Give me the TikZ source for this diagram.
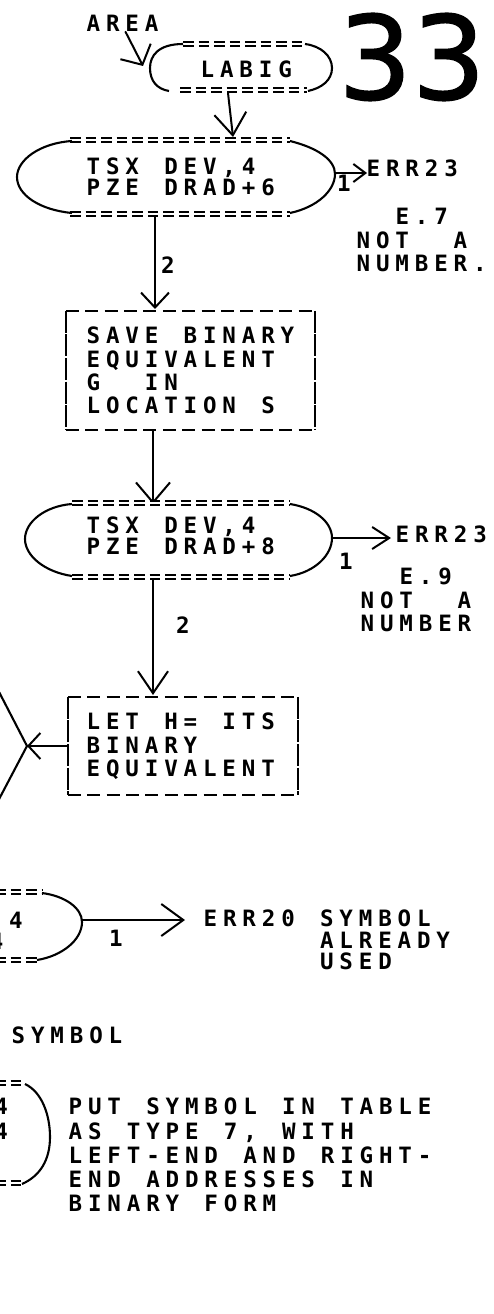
\documentclass[tikz,border=0pt]{standalone}
\usepackage{fontspec}
\usetikzlibrary{arrows.meta}
\newfontfamily\prt{DejaVu Sans Mono}[UprightFont=* Bold]
\newfontfamily\hand{DejaVu Sans}[FakeBold=1.2]
\newlength\cw \setlength\cw{19.4pt}
\ExplSyntaxOn
\cs_new:Npn \gridchar:n #1 { \str_if_eq:nnTF {#1} {_} { \makebox[\cw]{} } { \makebox[\cw][l]{#1} } }
\NewDocumentCommand \grid {m} { \tl_map_function:nN {#1} \gridchar:n }
\ExplSyntaxOff
\tikzset{
  conn/.style={line width=2pt, line cap=round},
  arcline/.style={line width=2.1pt},
  eqline/.style={double=white, double distance=1.5pt, line width=2pt, dash pattern=on 10.5pt off 5pt},
  boxdash/.style={line width=2.5pt, dash pattern=on 13pt off 6.4pt},
  boxside/.style={line width=2.5pt, dash pattern=on 22pt off 1.6pt},
  barb/.style 2 args={-{Straight Barb[length=#1pt,width=#2pt]}},
  prtext/.style={inner sep=0pt, anchor=north west, align=left, font=\prt\fontsize{22.5}{#1}\selectfont},
  prtext/.default=23.3,
  boxnode/.style={inner sep=0pt, draw=none}
}
\newcommand\prtbox[1]{%
  \draw[boxdash] (#1.north west) -- (#1.north east);
  \draw[boxdash] (#1.south west) -- (#1.south east);
  \draw[boxside] (#1.north west) -- (#1.south west);
  \draw[boxside] (#1.north east) -- (#1.south east);}
\begin{document}
\begin{tikzpicture}[x=1pt,y=-1pt]
\useasboundingbox (0,0) rectangle (494,1314);
\fill[white] (0,0) rectangle (494,1314);
\clip (0,0) rectangle (494,1314);

% page number
\node[inner sep=0pt, font=\hand\fontsize{116}{120}\selectfont] (pagenum) at (412,57) {33};

% entry AREA -> LABIG
\node[prtext] (area) at (86.5,15) {\grid{AREA}};
\coordinate (labigin) at (143,66);
\draw[conn, barb={15}{34}] (area.south) -- (labigin);

% LABIG terminal
\draw[eqline] (183,44) -- (305,44);
\draw[eqline] (180,90) -- (307,90);
\draw[arcline] (183,44) .. controls (158,44) and (150,56) .. (150,68) .. controls (150,81) and (157,89) .. (169,91);
\draw[arcline] (305,44) .. controls (321,46) and (332,56) .. (332,68) .. controls (332,80) and (322,88) .. (308,91);
\node[prtext] (labig) at (200.5,61) {\grid{LABIG}};
\coordinate (labigS) at (228,93);
\coordinate (tsxAN) at (233,137);
\draw[conn, barb={22}{32}] (labigS) -- (tsxAN);

% TSX 1
\draw[eqline] (70,140) -- (290,140);
\draw[eqline] (70,214) -- (290,214);
\draw[arcline] (72,141) .. controls (40,143) and (17,160) .. (17,177) .. controls (17,195) and (40,210) .. (72,213);
\draw[arcline] (290,141) .. controls (318,148) and (335,160) .. (335,174) .. controls (335,190) and (318,207) .. (290,213);
\node[prtext=20.5] (tsxA) at (86.5,158) {\grid{TSX_DEV,4}\\\grid{PZE_DRAD+6}};
\coordinate (tsxAE) at (335,173);
\coordinate (errAin) at (367,173);
\node[prtext] (errA) at (366.5,160) {\grid{ERR23}};
\draw[conn, barb={12}{18}] (tsxAE) -- (errAin);
\node[prtext] (oneA) at (337,175) {\grid{1}};
\node[prtext=23.5] (e7) at (356.5,208) {\grid{__E.7}\\\grid{NOT__A}\\\grid{NUMBER.}};
\node[prtext] (twoA) at (161,257) {\grid{2}};
\coordinate (tsxAS) at (155,216);
\coordinate (saveN) at (155,309);
\draw[conn, barb={15}{28}] (tsxAS) -- (saveN);

% SAVE box
\node[boxnode, minimum width=249pt, minimum height=119pt] (save) at (190.5,370.5) {};
\prtbox{save}
\node[prtext=23.3] (savetxt) at (86.5,327) {\grid{SAVE_BINARY}\\\grid{EQUIVALENT}\\\grid{G__IN}\\\grid{LOCATION_S}};
\coordinate (saveS) at (153,431);
\coordinate (tsxBN) at (153,504);
\draw[conn, barb={20}{34}] (saveS) -- (tsxBN);

% TSX 2
\draw[eqline] (72,503) -- (290,503);
\draw[eqline] (72,577) -- (290,577);
\draw[arcline] (72,504) .. controls (45,506) and (25,522) .. (25,539) .. controls (25,556) and (45,572) .. (72,576);
\draw[arcline] (290,504) .. controls (315,508) and (332,522) .. (332,538) .. controls (332,555) and (315,572) .. (290,576);
\node[prtext=20.5] (tsxB) at (86.5,517) {\grid{TSX_DEV,4}\\\grid{PZE_DRAD+8}};
\coordinate (tsxBE) at (332,538);
\coordinate (errBin) at (391,538);
\node[prtext] (errB) at (395.5,526) {\grid{ERR23}};
\draw[conn, barb={17}{22}] (tsxBE) -- (errBin);
\node[prtext] (oneB) at (339,553) {\grid{1}};
\node[prtext=23.5] (e9) at (360.5,568) {\grid{__E.9}\\\grid{NOT__A}\\\grid{NUMBER}};
\node[prtext] (twoB) at (176,617) {\grid{2}};
\coordinate (tsxBS) at (153,579);
\coordinate (letN) at (153,695);
\draw[conn, barb={22}{30}] (tsxBS) -- (letN);

% LET box
\node[boxnode, minimum width=230pt, minimum height=98pt] (let) at (183,746) {};
\prtbox{let}
\node[prtext=23.5] (lettxt) at (86.5,713) {\grid{LET_H=_ITS}\\\grid{BINARY}\\\grid{EQUIVALENT}};

% partial decision at left edge
\coordinate (diaE) at (27,746);
\draw[arcline] (-3,688) -- (diaE) -- (-3,803);
\draw[conn, barb={12}{26}] (let.west) -- (diaE);

% partial terminal -> ERR20
\draw[eqline] (-5,892) -- (42,892);
\draw[eqline] (-5,960) -- (38,960);
\draw[arcline] (42,893) .. controls (65,896) and (82,908) .. (82,922) .. controls (82,940) and (62,956) .. (37,960);
\node[prtext=21] (tsxC) at (-10.4,912) {\grid{,4}\\\grid{4}};
\coordinate (tsxCE) at (82,920);
\coordinate (errCin) at (185,920);
\draw[conn, barb={22}{32}] (tsxCE) -- (errCin);
\node[prtext=21.5] (errC) at (203.5,910) {\grid{ERR20_SYMBOL}\\\grid{______ALREADY}\\\grid{______USED}};
\node[prtext] (oneC) at (109,930) {\grid{1}};

\node[prtext] (sym) at (11.5,1027) {\grid{SYMBOL}};

% partial terminal, bottom
\draw[eqline] (-5,1083) -- (25,1083);
\draw[eqline] (-5,1183) -- (22,1183);
\draw[arcline] (25,1084) .. controls (42,1092) and (50,1115) .. (50,1137) .. controls (50,1160) and (40,1176) .. (22,1184);
\node[prtext=25] (tsxD) at (-5.7,1098) {\grid{4}\\\grid{4}};
\node[prtext=24.25] (put) at (68.5,1098) {\grid{PUT_SYMBOL_IN_TABLE}\\\grid{AS_TYPE_7,_WITH}\\\grid{LEFT-END_AND_RIGHT-}\\\grid{END_ADDRESSES_IN}\\\grid{BINARY_FORM}};
\end{tikzpicture}
\end{document}
